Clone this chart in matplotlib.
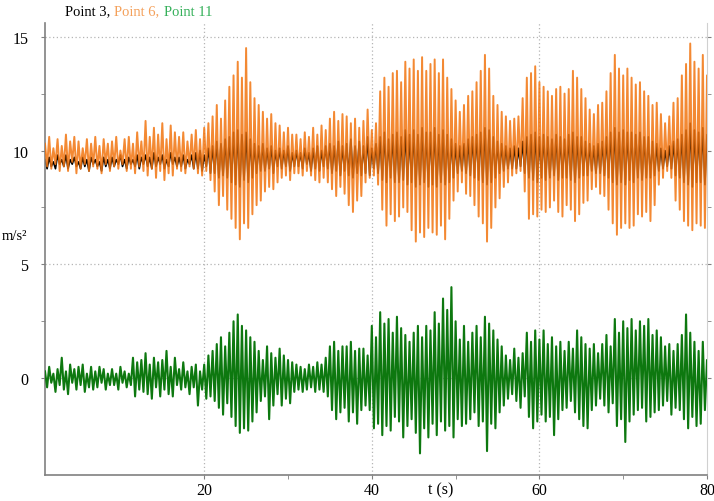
import numpy as np
import matplotlib
matplotlib.use("Agg")
import matplotlib.pyplot as plt

# samples, one row = 2 s (0.25 s apart), starting at t = 1 s
point3 = [
    9.6, 9.2, 9.7, 9.3, 9.5, 9.2, 9.8, 9.4,
    9.6, 9.3, 9.8, 9.2, 9.6, 9.4, 9.7, 9.3,
    9.5, 9.2, 9.7, 9.3, 9.6, 9.1, 9.7, 9.4,
    9.6, 9.3, 9.5, 9.1, 9.7, 9.3, 9.6, 9.2,
    9.7, 9.3, 9.6, 9.4, 9.8, 9.3, 9.6, 9.2,
    9.7, 9.4, 9.6, 9.3, 9.8, 9.2, 9.7, 9.4,
    9.8, 9.3, 9.7, 9.2, 9.9, 9.3, 9.7, 9.4,
    9.8, 9.2, 9.6, 9.3, 9.9, 9.4, 9.7, 9.3,
    9.7, 9.3, 9.8, 9.2, 9.6, 9.4, 9.8, 9.2,
    9.9, 9.2, 10.0, 9.1, 9.8, 9.3, 10.1, 9.0,
    10.2, 9.0, 10.4, 8.8, 10.3, 8.9, 10.5, 8.8,
    10.6, 8.6, 10.8, 8.5, 10.9, 8.4, 10.7, 8.7,
    10.8, 8.6, 10.5, 8.8, 10.3, 9.0, 10.2, 9.1,
    10.3, 9.1, 10.1, 9.2, 10.2, 9.0, 10.0, 9.3,
    10.1, 9.2, 10.0, 9.3, 10.2, 9.1, 9.9, 9.3,
    10.0, 9.3, 9.9, 9.2, 10.1, 9.4, 9.9, 9.1,
    10.1, 9.2, 10.2, 9.1, 10.0, 9.3, 10.2, 9.2,
    10.3, 9.0, 10.2, 9.1, 10.4, 8.9, 10.2, 9.1,
    10.3, 8.9, 10.5, 8.8, 10.2, 9.0, 10.4, 8.9,
    10.2, 9.0, 10.6, 8.9, 10.1, 9.2, 10.3, 9.0,
    10.6, 8.7, 10.8, 8.6, 10.5, 8.8, 10.7, 8.6,
    10.8, 8.6, 10.6, 8.7, 10.9, 8.5, 10.7, 8.6,
    10.9, 8.4, 10.7, 8.5, 11.0, 8.6, 10.8, 8.4,
    10.8, 8.5, 11.0, 8.4, 10.7, 8.6, 10.9, 8.5,
    10.7, 8.6, 10.5, 8.8, 10.3, 9.0, 10.2, 9.1,
    10.3, 9.0, 10.5, 8.9, 10.6, 8.8, 10.7, 8.7,
    10.8, 8.6, 11.0, 8.5, 10.9, 8.6, 10.6, 8.8,
    10.4, 9.0, 10.3, 9.1, 10.2, 9.2, 10.1, 9.2,
    10.2, 9.2, 10.1, 9.3, 10.4, 9.0, 10.6, 8.8,
    10.7, 8.7, 10.8, 8.6, 10.6, 8.8, 10.7, 8.7,
    10.6, 8.8, 10.5, 8.9, 10.7, 8.7, 10.6, 8.8,
    10.5, 8.8, 10.7, 8.7, 10.8, 8.6, 10.6, 8.8,
    10.6, 8.9, 10.4, 8.9, 10.3, 9.1, 10.2, 9.0,
    10.3, 9.0, 10.4, 8.9, 10.6, 8.8, 10.8, 8.6,
    11.0, 8.5, 10.8, 8.6, 10.9, 8.5, 10.8, 8.7,
    10.8, 8.6, 10.7, 8.8, 10.8, 8.7, 10.6, 8.8,
    10.6, 8.8, 10.4, 8.9, 10.3, 9.1, 10.1, 9.2,
    10.0, 9.3, 10.2, 9.2, 10.4, 8.9, 10.5, 8.8,
    10.7, 8.6, 10.9, 8.5, 11.2, 8.4, 10.9, 8.6,
    10.8, 8.6, 11.0, 8.5, 10.7, 8.8, 10.5, 8.9,
]

point6 = [
    10.3, 9.3, 10.6, 9.2, 10.1, 9.4, 10.5, 9.1,
    10.2, 9.3, 10.7, 9.1, 10.4, 9.5, 10.6, 9.0,
    10.4, 9.2, 10.1, 9.4, 10.5, 9.1, 10.3, 9.3,
    10.6, 9.2, 10.2, 9.0, 10.5, 9.4, 10.3, 9.1,
    10.4, 9.3, 10.6, 9.2, 10.0, 9.4, 10.5, 9.1,
    10.6, 9.2, 10.3, 9.0, 10.8, 9.3, 10.4, 9.1,
    11.3, 8.9, 10.6, 9.2, 11.0, 8.8, 10.7, 9.1,
    11.2, 8.7, 10.5, 9.0, 11.1, 8.9, 10.8, 9.2,
    10.6, 9.1, 10.8, 9.0, 10.4, 9.3, 10.7, 9.2,
    10.9, 9.0, 10.5, 8.9, 11.0, 9.1, 11.2, 8.7,
    11.5, 8.2, 12.0, 7.6, 11.4, 8.0, 12.2, 7.4,
    12.8, 7.0, 13.3, 6.6, 13.9, 6.1, 13.2, 6.8,
    14.5, 6.6, 13.0, 7.2, 12.3, 7.6, 12.0, 7.8,
    11.7, 8.2, 11.4, 8.4, 11.6, 8.3, 11.2, 8.6,
    11.1, 8.8, 10.8, 8.9, 11.0, 8.7, 10.7, 9.0,
    10.7, 9.0, 10.5, 8.9, 10.8, 9.1, 10.6, 8.9,
    11.0, 8.7, 10.7, 8.6, 11.1, 8.8, 10.9, 8.6,
    11.4, 8.3, 11.7, 8.0, 11.3, 8.4, 11.6, 8.1,
    11.5, 7.6, 11.2, 7.3, 11.4, 7.8, 11.0, 8.0,
    11.3, 8.6, 11.8, 8.8, 10.9, 8.9, 11.2, 8.5,
    12.6, 7.4, 13.2, 6.7, 12.8, 7.2, 13.4, 6.9,
    13.5, 7.1, 13.0, 7.5, 13.9, 7.3, 13.6, 6.5,
    14.0, 6.0, 13.5, 6.4, 14.1, 6.2, 13.5, 6.6,
    13.8, 6.4, 14.0, 6.3, 13.4, 6.7, 14.0, 6.1,
    13.2, 7.0, 12.7, 7.8, 12.2, 8.2, 11.7, 8.6,
    12.0, 8.1, 12.4, 8.0, 12.6, 7.6, 13.0, 7.1,
    13.5, 6.8, 14.2, 6.0, 13.6, 6.6, 12.4, 7.5,
    12.0, 7.9, 11.7, 8.4, 11.5, 8.6, 11.3, 8.9,
    11.4, 9.0, 11.5, 9.1, 12.3, 8.2, 13.2, 7.0,
    13.4, 7.2, 13.7, 7.1, 13.0, 7.4, 12.8, 7.3,
    12.6, 7.5, 12.4, 7.8, 12.7, 7.3, 12.8, 7.1,
    12.5, 7.6, 12.7, 7.4, 13.5, 6.9, 13.2, 7.2,
    12.7, 7.7, 12.3, 7.8, 11.8, 8.3, 11.6, 8.4,
    12.0, 8.1, 12.1, 8.0, 12.6, 7.4, 13.4, 6.8,
    14.2, 6.3, 13.6, 6.6, 13.3, 6.8, 13.6, 6.6,
    13.2, 6.7, 12.9, 7.2, 13.0, 7.1, 12.6, 7.3,
    12.4, 6.9, 12.0, 7.6, 12.1, 8.5, 11.6, 8.8,
    11.2, 9.1, 11.5, 8.8, 12.1, 7.8, 12.3, 7.4,
    13.3, 6.9, 13.8, 6.7, 14.7, 6.5, 13.9, 6.8,
    13.6, 6.7, 14.2, 6.6, 13.3, 7.0, 12.8, 7.6,
]

point11 = [
    0.3, -0.4, 0.5, -0.2, 0.2, -0.6, 0.4, -0.3,
    0.9, -0.5, 0.3, -0.7, 0.6, -0.2, 0.4, -0.5,
    0.5, -0.3, 0.6, -0.6, 0.2, -0.4, 0.5, -0.5,
    0.3, -0.4, 0.5, -0.2, 0.4, -0.5, 0.2, -0.3,
    0.4, -0.3, 0.2, -0.5, 0.5, -0.2, 0.3, -0.4,
    0.2, -0.3, 0.9, -0.8, 0.7, -0.5, 0.8, -0.6,
    1.1, -0.7, 0.6, -0.9, 0.9, -0.4, 0.7, -0.8,
    0.8, -0.5, 1.2, -0.7, 0.5, -0.8, 0.9, -0.3,
    0.4, -0.5, 0.7, -0.4, 0.3, -0.7, 0.5, -0.4,
    0.6, -1.2, 0.3, -0.5, 0.6, -0.9, 1.0, -0.8,
    1.2, -1.0, 1.5, -1.3, 1.8, -1.6, 1.4, -1.1,
    2.0, -1.7, 2.5, -2.1, 2.8, -2.4, 2.3, -2.2,
    2.1, -2.3, 1.8, -1.9, 1.6, -1.5, 1.2, -1.0,
    0.8, -0.8, 1.4, -1.8, 1.1, -1.2, 0.9, -0.7,
    1.3, -1.2, 1.0, -0.9, 0.8, -1.1, 0.7, -0.6,
    0.6, -0.5, 0.5, -0.6, 0.4, -0.5, 0.6, -0.4,
    0.5, -0.6, 0.7, -0.5, 0.6, -0.6, 0.9, -0.8,
    1.4, -1.4, 1.6, -1.8, 1.2, -1.5, 1.4, -1.3,
    1.4, -1.9, 1.6, -1.5, 1.2, -2.0, 1.3, -1.4,
    1.3, -1.2, 1.0, -1.4, 2.3, -2.2, 1.8, -2.0,
    2.9, -2.5, 2.4, -2.1, 2.6, -2.3, 2.0, -1.7,
    2.7, -1.9, 2.2, -2.6, 1.9, -2.1, 1.6, -1.8,
    2.0, -2.4, 2.3, -3.3, 1.8, -2.2, 2.3, -2.6,
    2.1, -2.0, 2.9, -2.5, 2.4, -1.9, 3.5, -2.3,
    3.0, -2.1, 4.0, -2.6, 2.5, -1.8, 1.7, -2.1,
    2.3, -2.0, 1.6, -1.8, 2.0, -1.5, 2.3, -2.1,
    1.8, -1.9, 2.7, -3.2, 2.4, -2.0, 2.1, -2.2,
    1.7, -1.5, 1.4, -1.2, 1.0, -0.9, 0.8, -0.7,
    1.3, -1.0, 0.9, -1.3, 1.1, -0.8, 2.0, -1.7,
    1.6, -2.2, 2.1, -1.9, 1.7, -1.6, 2.1, -1.9,
    1.5, -1.7, 1.8, -2.5, 1.4, -1.8, 1.6, -1.4,
    1.2, -1.3, 1.6, -1.0, 1.3, -1.5, 2.1, -1.8,
    1.8, -2.1, 1.5, -2.2, 1.3, -1.4, 1.5, -1.2,
    1.1, -0.9, 1.5, -1.2, 1.9, -1.5, 1.4, -1.1,
    2.6, -2.1, 2.0, -1.8, 2.5, -2.8, 2.2, -1.9,
    2.6, -1.6, 2.1, -1.4, 2.5, -1.3, 2.3, -1.9,
    2.6, -1.7, 1.9, -1.5, 2.1, -1.4, 1.8, -1.2,
    1.4, -1.0, 1.5, -1.6, 1.2, -1.3, 1.5, -1.4,
    1.9, -1.8, 2.8, -2.2, 2.0, -1.7, 1.6, -2.1,
    1.2, -2.0, 1.6, -1.4, 0.8, -1.0, 0.6, -0.7,
]

t = 1.0 + 0.25 * np.arange(len(point6))

serif = ["Liberation Serif", "DejaVu Serif"]
plt.rcParams["font.family"] = serif

fig = plt.figure(figsize=(7.14, 5.02), dpi=100)
ax = fig.add_axes([45 / 714, 26 / 502, 662 / 714, 452 / 502])

grid_kw = dict(color="#b5b5b5", lw=0.9, ls=(0, (1, 2)), zorder=0)
for gx in [20, 40, 60]:
    ax.axvline(gx, **grid_kw)
for gy in [0, 5, 15]:
    ax.axhline(gy, **grid_kw)

ax.plot(t, point3, color="black", lw=1.2, zorder=2)
ax.plot(t, point6, color="#f2740f", lw=1.4, alpha=0.85, zorder=3)
ax.plot(t, point11, color="#0d780f", lw=1.5, zorder=3)

ax.set_xlim(1, 80)
ax.set_ylim(-4.25, 15.6)

ax.set_xticks([20, 40, 60, 80])
ax.set_xticks([30, 50, 70], minor=True)
ax.set_yticks([0, 5, 10, 15])
ax.set_yticks([2.5, 7.5, 12.5], minor=True)
ax.tick_params(axis="both", which="both", direction="out", length=3,
               color="#808080", labelsize=11.5)
ax.tick_params(axis="y", pad=9)
ax.tick_params(axis="x", pad=2)
ax.tick_params(axis="y", which="both", right=True)

ax.spines["top"].set_visible(False)
ax.spines["left"].set_color("#808080")
ax.spines["bottom"].set_color("#808080")
ax.spines["right"].set_color("#d0d0d0")
for s in ["left", "bottom"]:
    ax.spines[s].set_linewidth(1.2)

fig.text(441 / 714, 1 - 490 / 502, "t (s)", ha="center", va="center", fontsize=11.5)
fig.text(2 / 714, 1 - 237 / 502, "m/s²", ha="left", va="center", fontsize=10.5)

t1 = fig.text(65 / 714, 1 - 12 / 502, "Point 3,", ha="left", va="center",
              fontsize=10.5, color="black")
t2 = ax.annotate("Point 6,", xy=(1, 0), xycoords=t1, xytext=(3, 0),
                 textcoords="offset points", ha="left", va="bottom",
                 fontsize=10.5, color="#f4a05a", annotation_clip=False)
ax.annotate("Point 11", xy=(1, 0), xycoords=t2, xytext=(3, 0),
            textcoords="offset points", ha="left", va="bottom",
            fontsize=10.5, color="#35b05a", annotation_clip=False)

fig.savefig("out.png", dpi=100)
